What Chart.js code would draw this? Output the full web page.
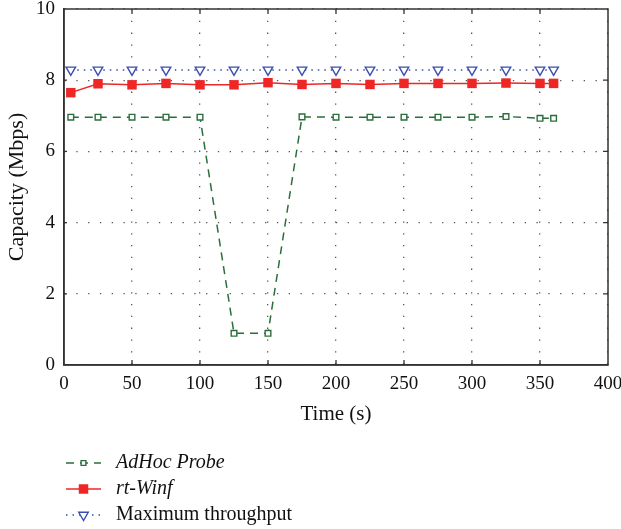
<!DOCTYPE html>
<html>
<head>
<meta charset="utf-8">
<script src="https://cdn.jsdelivr.net/npm/chart.js@4/dist/chart.umd.min.js"></script>
<style>
  html, body { margin: 0; padding: 0; background: #fff; }
</style>
</head>
<body>
<canvas id="capChart" width="621" height="529"></canvas>
<script>
// data
const times = [5, 25, 50, 75, 100, 125, 150, 175, 200, 225, 250, 275, 300, 325, 350, 360];
const adhocProbe = [6.96, 6.96, 6.96, 6.96, 6.96, 0.89, 0.89, 6.97, 6.96, 6.96, 6.96, 6.96, 6.96, 6.98, 6.93, 6.93];
const rtWinf = [7.65, 7.9, 7.87, 7.91, 7.87, 7.87, 7.93, 7.88, 7.91, 7.88, 7.91, 7.91, 7.91, 7.92, 7.91, 7.91];
const maxThroughput = [8.29, 8.29, 8.29, 8.29, 8.29, 8.29, 8.29, 8.29, 8.29, 8.29, 8.29, 8.29, 8.29, 8.29, 8.29, 8.29];
const seriesNames = ['AdHoc Probe', 'rt-Winf', 'Maximum throughput'];
const xTicks = [0, 50, 100, 150, 200, 250, 300, 350, 400];
const yTicks = [0, 2, 4, 6, 8, 10];

const serif = "'Liberation Serif', 'DejaVu Serif', serif";
const green = '#2b6e3c';
const red = '#ee2626';
const blue = '#3a4fae';

const toPoints = vals => vals.map((v, i) => ({ x: times[i], y: v }));

function drawMarker(ctx, ds, x, y) {
    ctx.save();
    ctx.strokeStyle = ds.pointBorderColor;
    ctx.fillStyle = ds.pointBackgroundColor;
    ctx.lineWidth = ds.pointBorderWidth;
    Chart.helpers.drawPoint(ctx, {
        pointStyle: ds.pointStyle,
        rotation: ds.pointRotation || 0,
        radius: ds.legendRadius,
        borderWidth: ds.pointBorderWidth
    }, x, y);
    ctx.restore();
}

// frame, inward tick marks and the left-aligned legend underneath
const framePlugin = {
    id: 'frame',
    afterDraw(chart) {
        const ctx = chart.ctx;
        const a = chart.chartArea;
        const xs = chart.scales.x;
        const ys = chart.scales.y;
        ctx.save();
        ctx.strokeStyle = '#333';
        ctx.lineWidth = 1.5;
        ctx.strokeRect(a.left, a.top, a.right - a.left, a.bottom - a.top);

        ctx.lineWidth = 1.3;
        ctx.beginPath();
        xTicks.slice(1, -1).forEach(t => {
            const px = xs.getPixelForValue(t);
            ctx.moveTo(px, a.bottom); ctx.lineTo(px, a.bottom - 5);
            ctx.moveTo(px, a.top); ctx.lineTo(px, a.top + 5);
        });
        yTicks.slice(1, -1).forEach(t => {
            const py = ys.getPixelForValue(t);
            ctx.moveTo(a.right, py); ctx.lineTo(a.right - 5, py);
            ctx.moveTo(a.left, py); ctx.lineTo(a.left + 3, py);
        });
        ctx.stroke();

        // legend
        const rows = [463, 489, 515];
        chart.data.datasets.forEach((ds, i) => {
            const y = rows[i];
            ctx.save();
            ctx.strokeStyle = ds.borderColor;
            ctx.lineWidth = ds.borderWidth;
            ctx.setLineDash(ds.borderDash || []);
            ctx.beginPath();
            ctx.moveTo(66, y); ctx.lineTo(101, y);
            ctx.stroke();
            ctx.restore();
            drawMarker(ctx, ds, 83.5, y);

            ctx.fillStyle = '#111';
            ctx.font = (i < 2 ? 'italic ' : '') + '20px ' + serif;
            ctx.textBaseline = 'middle';
            ctx.fillText(seriesNames[i], 116, y);
        });
        ctx.restore();
    }
};

const ctx = document.getElementById('capChart').getContext('2d');
const capChart = new Chart(ctx, {
    type: 'line',
    data: {
        datasets: [
            {
                label: seriesNames[0],
                data: toPoints(adhocProbe),
                borderColor: green,
                borderWidth: 1.5,
                borderDash: [8, 6],
                pointStyle: 'rect',
                pointRadius: 4,
                legendRadius: 3.4,
                pointBorderWidth: 1.4,
                pointBorderColor: green,
                pointBackgroundColor: '#fff',
                order: 3
            },
            {
                label: seriesNames[1],
                data: toPoints(rtWinf),
                borderColor: red,
                borderWidth: 1.5,
                pointStyle: 'rect',
                pointRadius: 6.7,
                legendRadius: 6.7,
                pointBorderWidth: 0,
                pointBorderColor: red,
                pointBackgroundColor: red,
                order: 2
            },
            {
                label: seriesNames[2],
                data: toPoints(maxThroughput),
                borderColor: blue,
                borderWidth: 1.5,
                borderDash: [1.5, 5],
                pointStyle: 'triangle',
                pointRotation: 180,
                pointRadius: 5.5,
                legendRadius: 5.5,
                pointBorderWidth: 1.4,
                pointBorderColor: blue,
                pointBackgroundColor: '#fff',
                order: 1
            }
        ]
    },
    options: {
        responsive: false,
        animation: false,
        layout: { padding: { left: 0, top: 9, right: 13, bottom: 99 } },
        plugins: {
            legend: { display: false },
            tooltip: { enabled: false }
        },
        scales: {
            x: {
                type: 'linear',
                min: 0,
                max: 400,
                afterBuildTicks: axis => { axis.ticks = xTicks.map(v => ({ value: v })); },
                afterFit: axis => {
                    axis.height = 65;
                    axis.paddingLeft = 0;
                    axis.paddingRight = 0;
                },
                ticks: { color: '#111', font: { family: serif, size: 19 }, padding: 8, maxRotation: 0 },
                grid: { color: '#555', lineWidth: 1.3, drawTicks: false },
                border: { color: '#333', width: 1.5, dash: [1.3, 10.5] },
                title: { display: true, text: 'Time (s)', color: '#111', font: { family: serif, size: 21 }, padding: { top: 0, bottom: 3 } }
            },
            y: {
                min: 0,
                max: 10,
                afterBuildTicks: axis => { axis.ticks = yTicks.map(v => ({ value: v })); },
                afterFit: axis => {
                    axis.width = 64;
                    axis.paddingTop = 0;
                    axis.paddingBottom = 0;
                },
                ticks: { color: '#111', font: { family: serif, size: 19 }, padding: 9 },
                grid: { color: '#555', lineWidth: 1.3, drawTicks: false },
                border: { color: '#333', width: 1.5, dash: [1.3, 10.5] },
                title: { display: true, text: 'Capacity (Mbps)', color: '#111', font: { family: serif, size: 22 }, padding: { top: 4, bottom: 0 } }
            }
        }
    },
    plugins: [framePlugin]
});
</script>
</body>
</html>
